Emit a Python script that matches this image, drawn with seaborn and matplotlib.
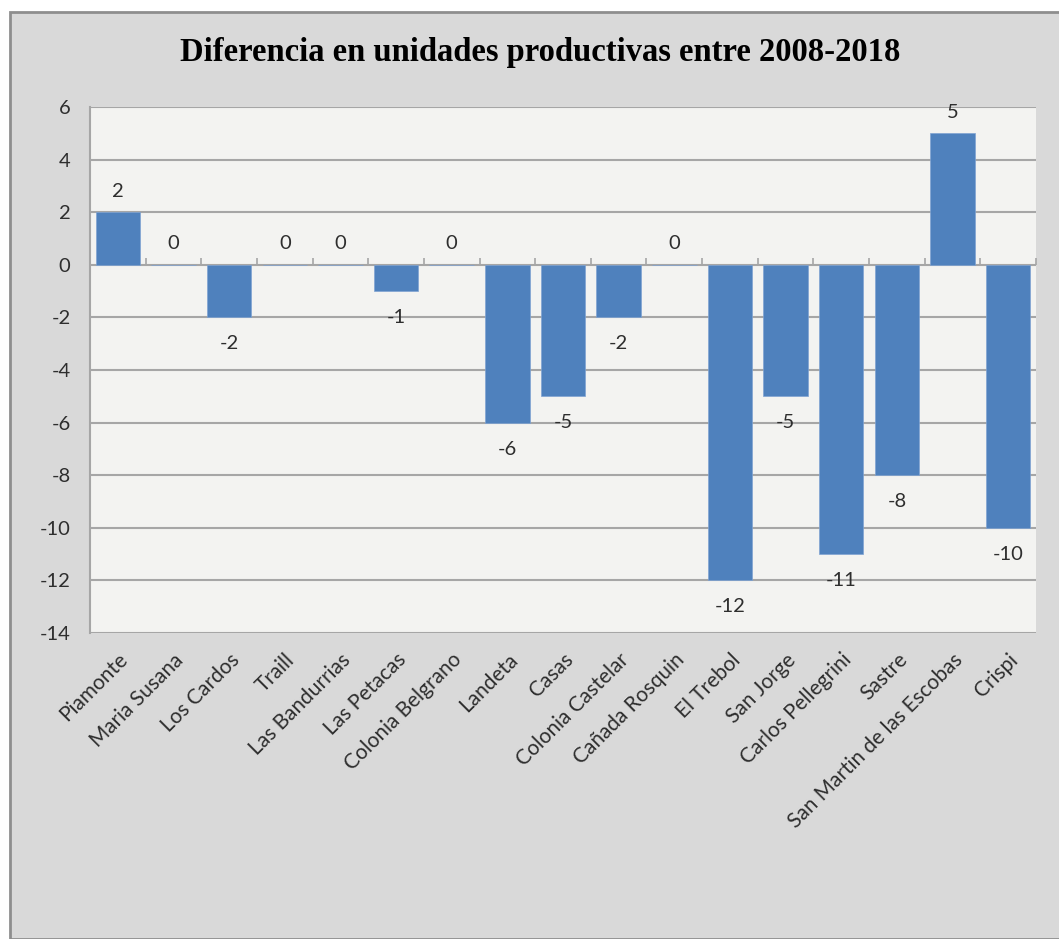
import matplotlib
matplotlib.use("Agg")
import matplotlib.pyplot as plt
from matplotlib.patches import Rectangle
import seaborn as sns
import pandas as pd
import numpy as np

# Localidades and change in productive units 2008-2018
localidades = [
    "Piamonte", "Maria Susana", "Los Cardos", "Traill", "Las Bandurrias",
    "Las Petacas", "Colonia Belgrano", "Landeta", "Casas", "Colonia Castelar",
    "Cañada Rosquin", "El Trebol", "San Jorge", "Carlos Pellegrini", "Sastre",
    "San Martin de las Escobas", "Crispi",
]
diferencia = [2, 0, -2, 0, 0, -1, 0, -6, -5, -2, 0, -12, -5, -11, -8, 5, -10]
y_ticks = [6, 4, 2, 0, -2, -4, -6, -8, -10, -12, -14]

titulo = "Diferencia en unidades productivas entre 2008-2018"

sns.set_theme(style="white")
plt.rcParams["font.family"] = ["Lato", "DejaVu Sans"]
plt.rcParams["axes.unicode_minus"] = False

bar_color = "#4f81bd"
grid_color = "#a6a6a6"
text_color = "#2e2e2e"
panel_color = "#d9d9d9"
plot_bg = "#f3f3f1"

fig = plt.figure(figsize=(10.59, 9.39), dpi=100, facecolor="white")

# grey chart panel with border
W, H = 1059, 939
panel = Rectangle((10 / W, 0), 1.2, (H - 12) / H, transform=fig.transFigure,
                  facecolor=panel_color, edgecolor="#8e8e8e", linewidth=2.0,
                  zorder=-10)
fig.patches.append(panel)

ax = fig.add_axes([90 / W, 1 - 633 / H, (1036 - 90) / W, (633 - 107) / H])
ax.set_zorder(1)
ax.set_facecolor(plot_bg)

df = pd.DataFrame({"localidad": localidades, "diferencia": diferencia})
sns.barplot(data=df, x="localidad", y="diferencia", color=bar_color,
            saturation=1, width=0.8, ax=ax, zorder=3, edgecolor="#7fa3d3",
            linewidth=0.5)

ymin, ymax = min(y_ticks), max(y_ticks)
ax.set_ylim(ymin, ymax)
ax.set_xlim(-0.5, len(localidades) - 0.5)
ax.set_yticks(y_ticks)
ax.yaxis.grid(True, color=grid_color, linewidth=1.5, zorder=1)
ax.set_axisbelow(True)
ax.set_xlabel("")
ax.set_ylabel("")

for side in ["top", "right", "bottom"]:
    ax.spines[side].set_visible(False)
ax.spines["left"].set_color(grid_color)
ax.spines["left"].set_linewidth(1.5)

ax.tick_params(axis="y", direction="out", length=8, width=1.5,
               color=grid_color, labelsize=14.5, labelcolor=text_color, pad=6)
ax.tick_params(axis="x", length=0, labelsize=15, labelcolor=text_color, pad=12)
ax.set_xticks(range(len(localidades)))
ax.set_xticklabels(localidades, rotation=45, ha="right",
                   rotation_mode="anchor")

# category boundary ticks on the zero line
zero_frac = (0 - ymin) / (ymax - ymin)
sec = ax.secondary_xaxis(zero_frac)
sec.set_xticks(np.arange(0.5, len(localidades) - 0.5 + 0.01, 1.0))
sec.tick_params(direction="out", length=5, width=1.2, color=grid_color,
                labelbottom=False, labeltop=False)
sec.spines["bottom"].set_visible(False)
sec.spines["top"].set_visible(False)

# value labels
for i, v in enumerate(diferencia):
    if v >= 0:
        ax.annotate(f"{v}", (i, v), xytext=(0, 9), textcoords="offset points",
                    ha="center", va="bottom", fontsize=14.5, color=text_color)
    else:
        ax.annotate(f"{v}", (i, v), xytext=(0, -13), textcoords="offset points",
                    ha="center", va="top", fontsize=14.5, color=text_color)

fig.text(0.51, 1 - 52 / H, titulo, ha="center", va="center",
         fontsize=23.5, fontweight="bold", family=["Liberation Serif"],
         color="black")

fig.savefig("out.png", dpi=100, facecolor=fig.get_facecolor())
